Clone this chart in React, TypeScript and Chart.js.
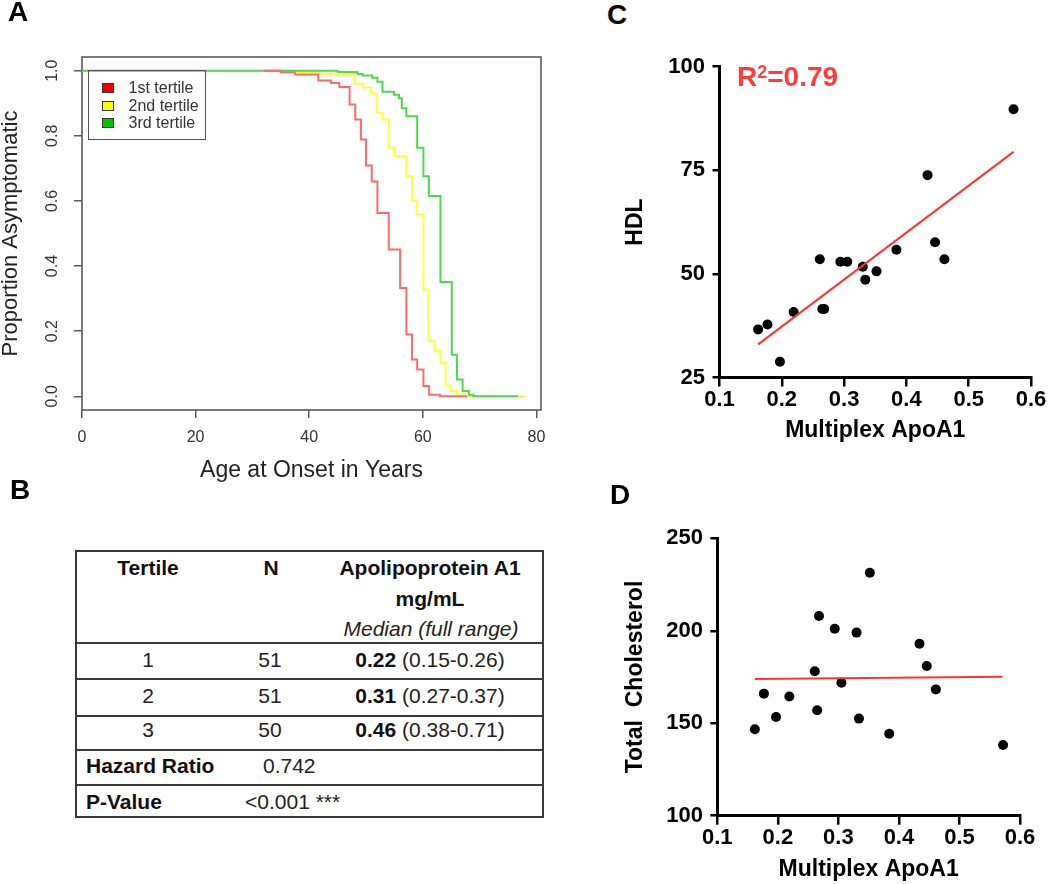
import React, { useEffect, useRef } from 'react';
import { Chart, registerables } from 'chart.js';

Chart.register(...registerables);

const FONT = "'Liberation Sans', Arial, Helvetica, sans-serif";

// ---------------- Panel A: Kaplan-Meier curves ----------------
const tertileLabels = ['1st tertile', '2nd tertile', '3rd tertile'];
const curveColors = ['#ff6b6b', '#ffff3d', '#4fd84f'];
const swatchColors = ['#f00000', '#ffff00', '#00c800'];
const drawOrder = [0, 2, 1];

const ageT1 = [32, 35, 37.5, 41.6, 43.8, 45.3, 47.1, 48.1, 49.1, 50, 51, 52, 54, 56, 57.1, 58.1, 59, 60.1, 61.1, 63, 67.8];
const survT1 = [1, 0.995, 0.988, 0.97, 0.962, 0.95, 0.896, 0.85, 0.789, 0.709, 0.66, 0.563, 0.451, 0.333, 0.19, 0.113, 0.082, 0.032, 0.005, 0, 0];

const ageT2 = [0, 36, 41.5, 47.9, 49.5, 50.9, 51.9, 52.9, 54, 55.1, 57.1, 58.1, 59, 60.1, 61, 62.1, 63.1, 64, 64.9, 66, 67.2, 78];
const survT2 = [1, 0.995, 0.99, 0.96, 0.948, 0.93, 0.87, 0.85, 0.763, 0.737, 0.676, 0.6, 0.558, 0.328, 0.17, 0.14, 0.103, 0.033, 0.017, 0.008, 0, 0];

const ageT3 = [0, 45, 48.5, 49.4, 51.1, 52, 52.9, 54.9, 55.8, 56.3, 57.1, 59, 60.1, 61.05, 63.1, 65.1, 66, 67, 68.1, 68.9, 76.8];
const survT3 = [1, 0.996, 0.99, 0.985, 0.978, 0.966, 0.935, 0.926, 0.915, 0.885, 0.86, 0.763, 0.676, 0.615, 0.351, 0.128, 0.052, 0.016, 0.005, 0, 0];

const ageTicks = [0, 20, 40, 60, 80];
const propTicks = [0, 0.2, 0.4, 0.6, 0.8, 1.0];

// ---------------- Panels C and D: scatter ----------------
const apoA1 = [0.162, 0.177, 0.197, 0.219, 0.261, 0.265, 0.268, 0.294, 0.305, 0.33, 0.334, 0.352, 0.384, 0.434, 0.446, 0.461, 0.572];
const hdl = [36.6, 37.8, 28.8, 40.8, 53.5, 41.5, 41.5, 52.9, 52.9, 51.7, 48.6, 50.6, 55.8, 73.8, 57.6, 53.5, 89.7];
const totalChol = [146.7, 166.0, 153.4, 164.5, 178.1, 157.0, 208.0, 201.1, 171.9, 199.0, 152.5, 231.4, 144.3, 193.0, 180.9, 168.3, 138.2];

const hdlFitX = [0.162, 0.572];
const hdlFitY = [33.0, 79.4];
const cholFitX = [0.162, 0.571];
const cholFitY = [173.9, 175.2];

const apoTicks = [0.1, 0.2, 0.3, 0.4, 0.5, 0.6];
const hdlTicks = [25, 50, 75, 100];
const cholTicks = [100, 150, 200, 250];
const rSquaredText = '0.79';

// ---------------- Panel B: table ----------------
const tableTertile = ['1', '2', '3'];
const tableN = ['51', '51', '50'];
const tableMedian = ['0.22', '0.31', '0.46'];
const tableRange = ['(0.15-0.26)', '(0.27-0.37)', '(0.38-0.71)'];
const hazardRatio = '0.742';
const pValue = '<0.001 ***';

// ---------------- helpers ----------------
function fixSize(size: number, horizontal: boolean) {
  return (s: any) => {
    if (horizontal) s.height = size;
    else s.width = size;
    s.paddingLeft = 0;
    s.paddingRight = 0;
    s.paddingTop = 0;
    s.paddingBottom = 0;
  };
}
function explicitTicks(values: number[]) {
  return (s: any) => {
    s.ticks = values.map((v) => ({ value: v }));
  };
}

const framePlugin = {
  id: 'rframe',
  beforeDatasetsDraw(chart: any) {
    const { ctx, chartArea: a } = chart;
    ctx.save();
    ctx.strokeStyle = '#5a5a5a';
    ctx.lineWidth = 1.6;
    ctx.strokeRect(a.left, a.top, a.right - a.left, a.bottom - a.top);
    ctx.restore();
  },
};

function buildA(): any {
  const ages = [ageT1, ageT2, ageT3];
  const survs = [survT1, survT2, survT3];
  return {
    type: 'line',
    data: {
      datasets: tertileLabels.map((label, i) => ({
        label,
        data: ages[i].map((x, j) => ({ x, y: survs[i][j] })),
        stepped: 'before',
        borderColor: curveColors[i],
        borderWidth: 2,
        pointRadius: 0,
        fill: false,
        order: drawOrder[i],
      })),
    },
    options: {
      responsive: false,
      animation: false,
      events: [],
      layout: { padding: { top: 57, right: 19, left: 0, bottom: 0 } },
      plugins: { legend: { display: false }, tooltip: { enabled: false } },
      scales: {
        x: {
          type: 'linear',
          min: 0,
          max: 80.8,
          afterBuildTicks: explicitTicks(ageTicks),
          afterFit: fixSize(80, true),
          ticks: {
            font: { family: FONT, size: 16 },
            color: '#333',
            padding: 10,
            autoSkip: false,
            maxRotation: 0,
            minRotation: 0,
          },
          grid: { display: true, drawOnChartArea: false, drawTicks: true, tickLength: 8, color: '#5a5a5a', lineWidth: 1.5 },
          border: { display: false },
          title: {
            display: true,
            text: 'Age at Onset in Years',
            font: { family: FONT, size: 23 },
            color: '#222',
            padding: { top: 0, bottom: 6 },
          },
        },
        y: {
          type: 'linear',
          min: -0.042,
          max: 1.042,
          afterBuildTicks: explicitTicks(propTicks),
          afterFit: fixSize(82, false),
          ticks: {
            font: { family: FONT, size: 16 },
            color: '#333',
            padding: 10,
            minRotation: 90,
            maxRotation: 90,
            crossAlign: 'center',
            autoSkip: false,
            callback: (v: any) => Number(v).toFixed(1),
          },
          grid: { display: true, drawOnChartArea: false, drawTicks: true, tickLength: 8, color: '#5a5a5a', lineWidth: 1.5 },
          border: { display: false },
          title: {
            display: true,
            text: 'Proportion Asymptomatic',
            font: { family: FONT, size: 22, lineHeight: 1 },
            color: '#222',
            padding: 0,
          },
        },
      },
    },
    plugins: [framePlugin],
  };
}

function scatterConfig(
  yValues: number[],
  fitX: number[],
  fitY: number[],
  yMin: number,
  yMax: number,
  yTicks: number[],
  yTitle: string,
  pad: { top: number; right: number },
  yWidth: number,
  xHeight: number,
  xTickPad: number,
  xTitlePadBottom: number,
  yTickPad: number
): any {
  const bold = { family: FONT, size: 22, weight: 'bold' as const };
  return {
    type: 'scatter',
    data: {
      datasets: [
        {
          label: 'fit',
          data: fitX.map((x, i) => ({ x, y: fitY[i] })),
          showLine: true,
          borderColor: '#ff3333',
          borderWidth: 2,
          pointRadius: 0,
          fill: false,
        },
        {
          label: 'points',
          data: apoA1.map((x, i) => ({ x, y: yValues[i] })),
          showLine: false,
          pointRadius: 5,
          pointBackgroundColor: '#000',
          pointBorderColor: '#000',
          pointBorderWidth: 0,
        },
      ],
    },
    options: {
      responsive: false,
      animation: false,
      events: [],
      layout: { padding: { top: pad.top, right: pad.right, left: 0, bottom: 0 } },
      plugins: { legend: { display: false }, tooltip: { enabled: false } },
      scales: {
        x: {
          type: 'linear',
          min: 0.1,
          max: 0.6,
          afterBuildTicks: explicitTicks(apoTicks),
          afterFit: fixSize(xHeight, true),
          ticks: {
            font: bold,
            color: '#000',
            padding: xTickPad,
            autoSkip: false,
            maxRotation: 0,
            minRotation: 0,
            callback: (v: any) => Number(v).toFixed(1),
          },
          grid: { display: true, drawOnChartArea: false, drawTicks: true, tickLength: 9, color: '#000', lineWidth: 2.5 },
          border: { display: true, color: '#000', width: 3 },
          title: {
            display: true,
            text: 'Multiplex ApoA1',
            font: { family: FONT, size: 23, weight: 'bold' },
            color: '#000',
            padding: { top: 0, bottom: xTitlePadBottom },
          },
        },
        y: {
          type: 'linear',
          min: yMin,
          max: yMax,
          afterBuildTicks: explicitTicks(yTicks),
          afterFit: fixSize(yWidth, false),
          ticks: {
            font: bold,
            color: '#000',
            padding: yTickPad,
            autoSkip: false,
          },
          grid: { display: true, drawOnChartArea: false, drawTicks: true, tickLength: 7, color: '#000', lineWidth: 2.5 },
          border: { display: true, color: '#000', width: 3 },
          title: {
            display: true,
            text: yTitle,
            font: { family: FONT, size: 23, weight: 'bold', lineHeight: 1 },
            color: '#000',
            padding: { top: 24.5, bottom: 0 },
          },
        },
      },
    },
  };
}

function buildC(): any {
  return scatterConfig(hdl, hdlFitX, hdlFitY, 25, 100, hdlTicks, 'HDL', { top: 26.5, right: 19 }, 119.5, 72.5, 0.7, 5.2, 7.5);
}
function buildD(): any {
  return scatterConfig(totalChol, cholFitX, cholFitY, 100, 250, cholTicks, 'Total  Cholesterol', { top: 38.3, right: 30 }, 117.3, 68.3, 0.5, 0.2, 7.3);
}

function ChartCanvas({ left, top, width, height, build }: { left: number; top: number; width: number; height: number; build: () => any }) {
  const ref = useRef<HTMLCanvasElement | null>(null);
  useEffect(() => {
    if (!ref.current) return;
    const chart = new Chart(ref.current, build());
    return () => chart.destroy();
  }, [build]);
  return (
    <div style={{ position: 'absolute', left, top, width, height }}>
      <canvas ref={ref} width={width} height={height} style={{ display: 'block', width, height }} />
    </div>
  );
}

function PanelLetter({ text, left, capCenter }: { text: string; left: number; capCenter: number }) {
  const size = 28;
  return (
    <div
      style={{
        position: 'absolute',
        left,
        top: capCenter - 0.488 * size,
        fontFamily: FONT,
        fontWeight: 'bold',
        fontSize: size,
        lineHeight: `${size}px`,
        color: '#000',
      }}
    >
      {text}
    </div>
  );
}

function TText({ children, cx, left, cy, bold, italic, color }: any) {
  const size = 21;
  const style: any = {
    position: 'absolute',
    top: cy - 0.488 * size - (size - size) / 2,
    fontFamily: FONT,
    fontSize: size,
    lineHeight: `${size}px`,
    height: size,
    whiteSpace: 'nowrap',
    fontWeight: bold ? 'bold' : 'normal',
    fontStyle: italic ? 'italic' : 'normal',
    color: color || '#111',
  };
  if (cx !== undefined) {
    style.left = cx - 150;
    style.width = 300;
    style.textAlign = 'center';
  } else {
    style.left = left;
  }
  return <div style={style}>{children}</div>;
}

function TableB() {
  const hLines = [551, 643, 679, 716, 750, 785, 817];
  const rowY = [659, 695, 729];
  return (
    <>
      {hLines.map((y) => (
        <div key={y} style={{ position: 'absolute', left: 75, top: y - 1, width: 469, height: 2, background: '#3a3a3a' }} />
      ))}
      <div style={{ position: 'absolute', left: 75, top: 550, width: 2, height: 268, background: '#3a3a3a' }} />
      <div style={{ position: 'absolute', left: 542, top: 550, width: 2, height: 268, background: '#3a3a3a' }} />
      <TText cx={148} cy={567} bold>Tertile</TText>
      <TText cx={271} cy={567} bold>N</TText>
      <TText cx={430} cy={567} bold>Apolipoprotein A1</TText>
      <TText cx={430} cy={598} bold>mg/mL</TText>
      <TText cx={431} cy={628} italic color="#222">Median (full range)</TText>
      {tableTertile.map((t, i) => (
        <React.Fragment key={t}>
          <TText cx={148} cy={rowY[i]} color="#222">{t}</TText>
          <TText cx={270} cy={rowY[i]} color="#222">{tableN[i]}</TText>
          <TText cx={430} cy={rowY[i]} color="#222">
            <b style={{ color: '#111' }}>{tableMedian[i]}</b> {tableRange[i]}
          </TText>
        </React.Fragment>
      ))}
      <TText left={86} cy={765} bold>Hazard Ratio</TText>
      <TText left={263} cy={765} color="#222">{hazardRatio}</TText>
      <TText left={86} cy={801} bold>P-Value</TText>
      <TText left={245} cy={801} color="#222">{pValue}</TText>
    </>
  );
}

function LegendA() {
  const centers = [88, 106, 123.5];
  const innerTop = 71.5;
  return (
    <div
      style={{
        position: 'absolute',
        left: 87.5,
        top: 70,
        width: 118.5,
        height: 70,
        border: '1.5px solid #555',
        boxSizing: 'border-box',
      }}
    >
      {tertileLabels.map((label, i) => (
        <React.Fragment key={label}>
          <div
            style={{
              position: 'absolute',
              left: 13,
              top: centers[i] - 5 - innerTop,
              width: 12,
              height: 10,
              background: swatchColors[i],
              border: '1px solid #333',
              boxSizing: 'border-box',
            }}
          />
          <div
            style={{
              position: 'absolute',
              left: 40,
              top: centers[i] - 8 - innerTop,
              fontFamily: FONT,
              fontSize: 16,
              lineHeight: '16px',
              color: '#333',
              whiteSpace: 'nowrap',
            }}
          >
            {label}
          </div>
        </React.Fragment>
      ))}
    </div>
  );
}

export default function App() {
  return (
    <div style={{ position: 'absolute', left: 0, top: 0, width: 1050, height: 884, overflow: 'hidden', background: '#fff' }}>
      <ChartCanvas left={0} top={0} width={560} height={490} build={buildA} />
      <LegendA />
      <ChartCanvas left={600} top={40} width={450} height={410} build={buildC} />
      <ChartCanvas left={600} top={500} width={450} height={384} build={buildD} />
      <TableB />
      <div
        style={{
          position: 'absolute',
          left: 737,
          top: 63,
          fontFamily: FONT,
          fontWeight: 'bold',
          fontSize: 28,
          lineHeight: '28px',
          color: '#ff3c3c',
          whiteSpace: 'nowrap',
        }}
      >
        R<span style={{ fontSize: 18, position: 'relative', top: -8 }}>2</span>={rSquaredText}
      </div>
      <PanelLetter text="A" left={8} capCenter={12} />
      <PanelLetter text="B" left={10} capCenter={490} />
      <PanelLetter text="C" left={607} capCenter={15} />
      <PanelLetter text="D" left={610} capCenter={495} />
    </div>
  );
}
